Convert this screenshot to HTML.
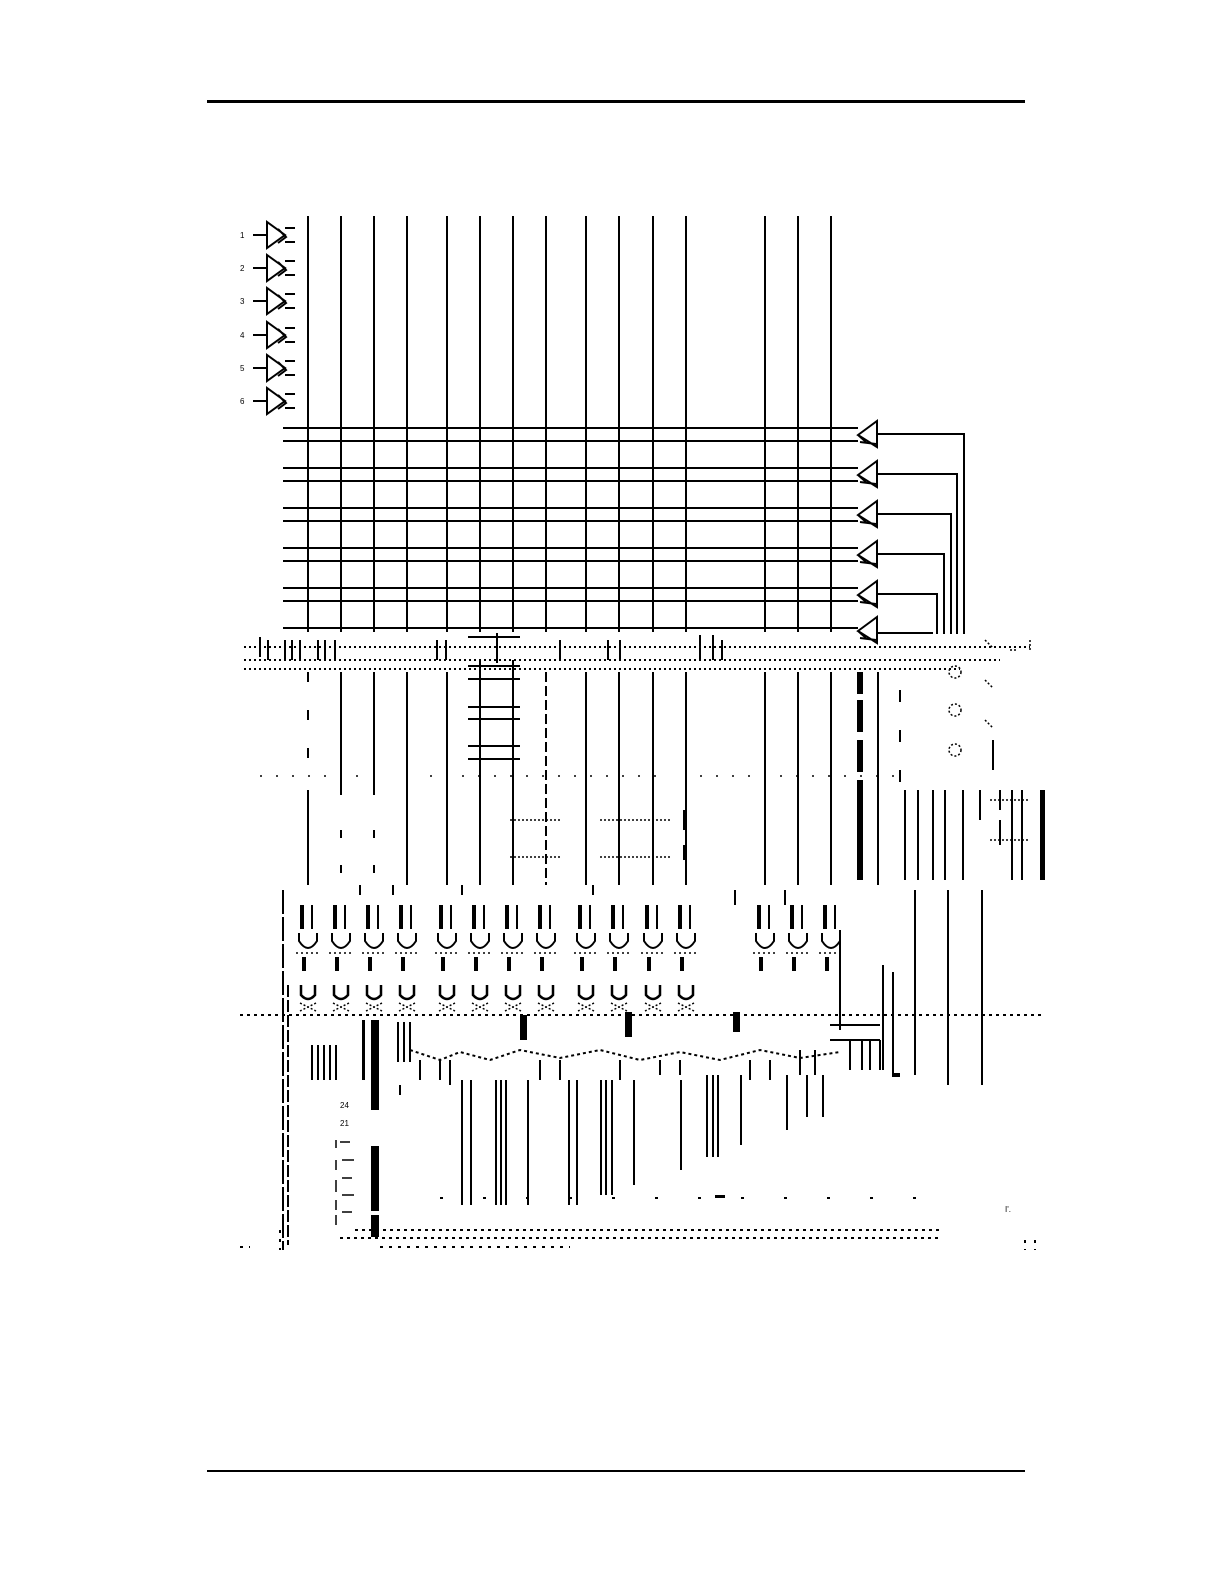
<!DOCTYPE html>
<html><head><meta charset="utf-8"><style>
html,body{margin:0;padding:0;background:#fff}
svg{display:block}
text{font-family:"Liberation Sans",sans-serif;font-size:8px;fill:#000}
</style></head><body>
<svg width="1225" height="1585" viewBox="0 0 1225 1585" xmlns="http://www.w3.org/2000/svg">
<defs>
<g id="ib" stroke="#000" stroke-width="2" fill="none">
<path d="M-27 0 H-13 M-13 -13 V13 L5 0 Z M5 -7 H15 M5 7 H15 M-2 -6 L6 2 L-2 8"/>
</g>
<g id="ob" stroke="#000" stroke-width="2" fill="none">
<path d="M19 -13 V13 L0 1 Z M0 1 L8 8 M2 8 L18 10"/>
</g>
<g id="g1">
<rect x="-8" y="0" width="4" height="24" fill="#000"/>
<rect x="3" y="0" width="2" height="24" fill="#000"/>
<path d="M-9 28 v8 q9 14 18 0 v-8" stroke="#000" stroke-width="2" fill="none"/>
<path d="M-12 48 h24" stroke="#000" stroke-width="1.5" stroke-dasharray="2 3"/>
<rect x="-6" y="52" width="4" height="14" fill="#000"/>
</g>
<g id="g2">
<path d="M-7 0 v10 q7 8 14 0 v-10" stroke="#000" stroke-width="2.5" fill="none"/>
<path d="M-8 18 l16 8 M8 18 l-16 8" stroke="#000" stroke-width="1.5" stroke-dasharray="2 2"/>
</g>
</defs>

<rect x="207" y="100" width="818" height="3" fill="#000"/>
<rect x="207" y="1470" width="818" height="2" fill="#000"/>

<g>
<use href="#ib" x="280" y="235"/><use href="#ib" x="280" y="268"/><use href="#ib" x="280" y="301"/>
<use href="#ib" x="280" y="335"/><use href="#ib" x="280" y="368"/><use href="#ib" x="280" y="401"/>
<text x="240" y="238">1</text><text x="240" y="271">2</text><text x="240" y="304">3</text>
<text x="240" y="338">4</text><text x="240" y="371">5</text><text x="240" y="404">6</text>
</g>

<g stroke="#000" stroke-width="2" fill="none">
<path d="M308 216V632 M341 216V632 M374 216V632 M407 216V632 M447 216V632 M480 216V632 M513 216V632 M546 216V632 M586 216V632 M619 216V632 M653 216V632 M686 216V632 M765 216V632 M798 216V632 M831 216V632"/>
<path d="M283 428H858 M283 441H858 M283 468H858 M283 481H858 M283 508H858 M283 521H858 M283 548H858 M283 561H858 M283 588H858 M283 601H858 M283 628H858"/>
<path d="M877 434H964V634 M877 474H957V634 M877 514H951V634 M877 554H944V634 M877 594H937V634 M877 633H933"/>
</g>
<use href="#ob" x="858" y="434"/><use href="#ob" x="858" y="474"/><use href="#ob" x="858" y="514"/>
<use href="#ob" x="858" y="554"/><use href="#ob" x="858" y="594"/><use href="#ob" x="858" y="630"/>

<g stroke="#000" stroke-width="2" stroke-dasharray="2 3" fill="none">
<path d="M244 647H1030 M244 660H1000 M244 669H960"/>
</g>
<g stroke="#000" stroke-width="2" fill="none">
<path d="M260 637v20 M268 640v20 M285 640v20 M292 640v20 M300 640v20 M318 640v20 M325 640v20 M335 640v20 M437 640v20 M446 640v20 M497 633v30 M560 640v20 M608 640v20 M620 640v20 M700 635v25 M713 635v25 M722 640v20"/>
<path d="M468 637H520 M468 666H520 M468 679H520 M468 707H520 M468 719H520 M468 746H520 M468 759H520"/>
</g>

<g stroke="#000" stroke-width="2" fill="none">
<path d="M308 672v10 M308 710v10 M308 748v10 M308 790V885"/>
<path d="M341 672V795 M341 830v8 M341 865v8"/>
<path d="M374 672V795 M374 830v8 M374 865v8"/>
<path d="M407 672V885 M447 672V885 M480 660V885 M513 660V885"/>
<path d="M546 672V885" stroke-dasharray="10 4"/>
<path d="M586 672V885 M619 672V885 M653 672V885 M686 672V885 M765 672V885 M798 672V885 M831 672V885"/>
<path d="M684 810v20 M684 845v15 M905 790v90 M918 790v90 M933 790v90 M945 790v90 M963 790v90 M980 790v30 M1000 790v20 M1012 790v90 M1022 790v90"/>
<path d="M878 672V885"/>
<path d="M900 690v12 M900 730v12 M900 770v12 M993 740v30 M1000 820v25"/>
</g>
<g fill="#000">
<rect x="857" y="672" width="6" height="22"/><rect x="857" y="700" width="6" height="32"/>
<rect x="857" y="740" width="6" height="32"/><rect x="857" y="780" width="6" height="100"/>
<rect x="1040" y="790" width="5" height="90"/>
</g>
<g stroke="#000" stroke-width="1.5" fill="none" stroke-dasharray="2 2">
<circle cx="955" cy="672" r="6"/><circle cx="955" cy="710" r="6"/><circle cx="955" cy="750" r="6"/>
<path d="M985 640l8 8 M985 680l8 8 M985 720l8 8 M1010 650h8 M1030 640v12"/>
<path d="M260 776h100 M430 776h240 M700 776h200" stroke-dasharray="2 14"/>
<path d="M510 820h50 M600 820h70 M510 857h50 M600 857h70 M990 800h40 M990 840h40"/>
</g>

<g stroke="#000" stroke-width="2" fill="none">
<path d="M283 890V1250" stroke-dasharray="24 3"/>
<path d="M288 985V1245" stroke-dasharray="12 3"/>
<path d="M360 885v10 M393 885v10 M462 885v10 M593 885v10 M735 890v15 M785 890v15"/>
</g>
<use href="#g1" x="308" y="905"/><use href="#g1" x="341" y="905"/><use href="#g1" x="374" y="905"/>
<use href="#g1" x="407" y="905"/><use href="#g1" x="447" y="905"/><use href="#g1" x="480" y="905"/>
<use href="#g1" x="513" y="905"/><use href="#g1" x="546" y="905"/><use href="#g1" x="586" y="905"/>
<use href="#g1" x="619" y="905"/><use href="#g1" x="653" y="905"/><use href="#g1" x="686" y="905"/>
<use href="#g1" x="765" y="905"/><use href="#g1" x="798" y="905"/><use href="#g1" x="831" y="905"/>
<use href="#g2" x="308" y="985"/><use href="#g2" x="341" y="985"/><use href="#g2" x="374" y="985"/>
<use href="#g2" x="407" y="985"/><use href="#g2" x="447" y="985"/><use href="#g2" x="480" y="985"/>
<use href="#g2" x="513" y="985"/><use href="#g2" x="546" y="985"/><use href="#g2" x="586" y="985"/>
<use href="#g2" x="619" y="985"/><use href="#g2" x="653" y="985"/><use href="#g2" x="686" y="985"/>
<g stroke="#000" stroke-width="2" fill="none">
<path d="M240 1015H1045" stroke-dasharray="3 4"/>
<path d="M915 890V1075 M948 890V1085 M982 890V1085 M893 972V1075 M840 930V1030 M883 965V1070"/>
<path d="M830 1025H880 M830 1040H880"/>
<path d="M398 1022v40 M404 1022v40 M410 1022v40 M400 1085v10"/>
<path d="M312 1045v35 M318 1045v35 M324 1045v35 M330 1045v35 M336 1045v35"/>
<path d="M410 1050l30 10 l20 -8 l30 8 l30 -10 l40 8 l40 -8 l40 10 l40 -8 l40 8 l40 -10 l40 8 l40 -6" stroke-dasharray="3 3"/>
<path d="M420 1060v20 M440 1060v20 M450 1060v25 M540 1060v20 M560 1060v20 M620 1060v20 M660 1060v15 M680 1060v15 M750 1060v20 M770 1060v20 M800 1050v25 M815 1050v25 M850 1040v30 M862 1040v30 M870 1040v30 M880 1040v30"/>
<path d="M462 1080V1205 M471 1080V1205 M496 1080V1205 M501 1080V1205 M506 1080V1205 M528 1080V1205 M569 1080V1205 M577 1080V1205 M601 1080V1195 M606 1080V1195 M612 1080V1195 M634 1080V1185 M681 1080V1170 M707 1075V1157 M713 1075V1157 M718 1075V1157 M741 1075V1145 M787 1075V1130 M807 1075V1117 M823 1075V1117"/>
<path d="M355 1230H940 M340 1238H940" stroke-dasharray="3 4"/>
<path d="M380 1247H570 M240 1247h10 M1025 1240v10 M1035 1240v10 M280 1230v20" stroke-dasharray="3 6"/>
<path d="M440 1198H940" stroke-dasharray="3 40"/>
</g>
<g fill="#000">
<rect x="371" y="1020" width="8" height="90"/>
<rect x="371" y="1146" width="8" height="65"/>
<rect x="371" y="1215" width="8" height="22"/>
<rect x="520" y="1015" width="7" height="25"/><rect x="625" y="1012" width="7" height="25"/><rect x="733" y="1012" width="7" height="20"/>
<rect x="892" y="1073" width="8" height="4"/><rect x="715" y="1195" width="10" height="3"/>
<rect x="362" y="1020" width="3" height="60"/>
</g>
<g stroke="#000" stroke-width="1.5" fill="none">
<path d="M336 1140v8 M336 1160v10 M336 1180v12 M336 1200v10 M336 1215v10 M340 1142h10 M342 1160h12 M342 1178h10 M342 1195h12 M342 1212h10"/>
</g>
<text x="340" y="1108">24</text><text x="340" y="1126">21</text>
<text x="1005" y="1212">I'.</text>
</svg>
</body></html>
